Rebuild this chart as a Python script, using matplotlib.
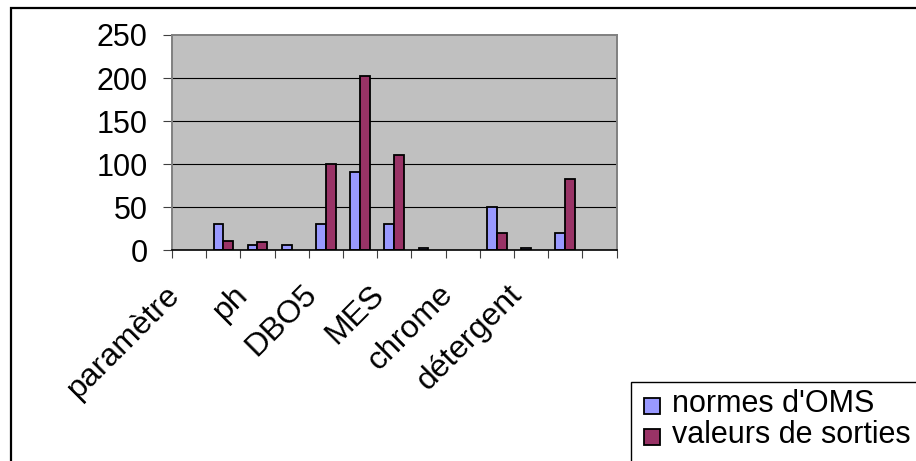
import numpy as np
import matplotlib
matplotlib.use("Agg")
import matplotlib.pyplot as plt
from matplotlib.patches import Rectangle
from matplotlib.transforms import ScaledTranslation

plt.rcParams['font.family'] = ['Liberation Sans', 'DejaVu Sans']

# Category axis: 13 slots, only every other one carries a visible name
tick_labels = ["paramètre", "", "ph", "", "DBO5", "", "MES", "", "chrome", "", "détergent", "", ""]

series_names = ["normes d'OMS", "valeurs de sorties"]
normes = [None, 30, 6, 6, 30, 91, 30, 2, None, 50, 2, 20, None]
sorties = [None, 11, 9, None, 100, 202, 111, None, None, 20, None, 82, None]
y_ticks = [0, 50, 100, 150, 200, 250]

colors = ["#9999FF", "#993366"]

W, H = 916, 461
fig = plt.figure(figsize=(W / 100, H / 100), dpi=100)


def fx(px):
    return px / W


def fy(py):
    return 1 - py / H


# chart-area frame
fig.patches.append(Rectangle((fx(10.5), fy(600)), fx(1000), fy(8) - fy(600),
                             transform=fig.transFigure, fill=False,
                             edgecolor="black", linewidth=1.6))

ax = fig.add_axes([fx(172), fy(250), fx(616.5) - fx(172), fy(35) - fy(250)])
ax.set_facecolor("#C0C0C0")

n = len(tick_labels)
x = np.arange(n) + 0.5
w = 1 / 3.5
vals_a = np.array([np.nan if v is None else v for v in normes], dtype=float)
vals_b = np.array([np.nan if v is None else v for v in sorties], dtype=float)
ax.bar(x - w / 2, vals_a, width=w, color=colors[0], edgecolor="black", linewidth=1.3, zorder=3)
ax.bar(x + w / 2, vals_b, width=w, color=colors[1], edgecolor="black", linewidth=1.3, zorder=3)

ax.set_xlim(0, n)
ax.set_ylim(0, 250)
ax.set_yticks(y_ticks)
ax.set_yticklabels([str(v) for v in y_ticks])
for v in y_ticks[1:-1]:
    ax.axhline(v, color="black", linewidth=0.8, zorder=1)

ax.set_xticks(np.arange(n + 1))
ax.set_xticklabels([])
ax.tick_params(axis="x", length=6, width=0.8, color="#404040", direction="out")
ax.tick_params(axis="y", length=6.5, width=0.8, color="#404040", direction="out",
               pad=11, labelsize=22)

for side in ("top", "right", "left"):
    ax.spines[side].set_color("#808080")
    ax.spines[side].set_linewidth(1.4)
ax.spines["bottom"].set_color("black")
ax.spines["bottom"].set_linewidth(1.2)
ax.spines["bottom"].set_zorder(4)

# rotated category names
trans = ax.get_xaxis_transform() + ScaledTranslation(-0.14, -0.40, fig.dpi_scale_trans)
for xi, lab in zip(x, tick_labels):
    if lab:
        ax.text(xi, 0, lab, transform=trans, rotation=45, rotation_mode="anchor",
                ha="right", va="center", fontsize=23)

# legend box
fig.patches.append(Rectangle((fx(631), fy(600)), fx(1000), fy(382) - fy(600),
                             transform=fig.transFigure, fill=False,
                             edgecolor="black", linewidth=1.0))
rows = [(397.5, 411.7), (429, 443.3)]
for (top, base), name, col in zip(rows, series_names, colors):
    fig.patches.append(Rectangle((fx(643.5), fy(top + 16)), fx(16), fy(top) - fy(top + 16),
                                 transform=fig.transFigure, facecolor=col,
                                 edgecolor="black", linewidth=1.3))
    fig.text(fx(672), fy(base), name, fontsize=22, ha="left", va="baseline")

fig.savefig("out.png", dpi=100)
